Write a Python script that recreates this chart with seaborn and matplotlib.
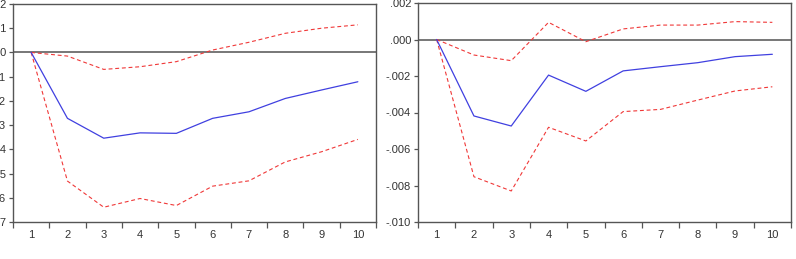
import numpy as np
import pandas as pd
import seaborn as sns
import matplotlib.pyplot as plt
from matplotlib.ticker import FixedLocator

# horizon 1..10
periods = list(range(1, 11))

# left panel (response, lower and upper bands)
left_resp = [0.0, -0.0272, -0.0354, -0.0332, -0.0334, -0.0272, -0.0245, -0.0190, -0.0155, -0.0121]
left_upper = [0.0, -0.0015, -0.0070, -0.0059, -0.0038, 0.0010, 0.0042, 0.0079, 0.0100, 0.0114]
left_lower = [0.0, -0.0531, -0.0639, -0.0603, -0.0632, -0.0552, -0.0530, -0.0452, -0.0410, -0.0359]
left_ticks = [0.02, 0.01, 0.0, -0.01, -0.02, -0.03, -0.04, -0.05, -0.06, -0.07]
left_labels = [".02", ".01", ".00", "-.01", "-.02", "-.03", "-.04", "-.05", "-.06", "-.07"]

# right panel
right_resp = [0.0, -0.00419, -0.00474, -0.00195, -0.00284, -0.00172, -0.00149, -0.00127, -0.00094, -0.00081]
right_upper = [0.0, -0.00085, -0.00116, 0.00094, -0.00012, 0.00058, 0.00079, 0.00079, 0.00098, 0.00094]
right_lower = [0.0, -0.00752, -0.00830, -0.00481, -0.00556, -0.00395, -0.00383, -0.00332, -0.00282, -0.00259]
right_ticks = [0.002, 0.0, -0.002, -0.004, -0.006, -0.008, -0.010]
right_labels = [".002", ".000", "-.002", "-.004", "-.006", "-.008", "-.010"]

sns.set_style("white")
plt.rcParams['font.family'] = ['Liberation Sans', 'DejaVu Sans']

fig = plt.figure(figsize=(7.96, 2.59), dpi=100)
ax1 = fig.add_axes([13 / 796, 1 - 222 / 259, 363 / 796, 218 / 259])
ax2 = fig.add_axes([418 / 796, 1 - 222 / 259, 373 / 796, 219 / 259])

frame_col = "#555555"


def draw(ax, resp, upper, lower, ticks, labels, ylim):
    df = pd.DataFrame({"period": periods, "resp": resp, "upper": upper, "lower": lower})
    sns.lineplot(data=df, x="period", y="upper", ax=ax, color="#f03838",
                 lw=0.8, linestyle=(0, (3.5, 2.5)))
    sns.lineplot(data=df, x="period", y="lower", ax=ax, color="#f03838",
                 lw=0.8, linestyle=(0, (3.5, 2.5)))
    sns.lineplot(data=df, x="period", y="resp", ax=ax, color="#4040e0", lw=0.9)
    ax.axhline(0, color="#606060", lw=1.2, zorder=0)
    ax.set_xlim(0.5, 10.5)
    ax.set_ylim(*ylim)
    ax.set_xticks(periods)
    ax.xaxis.set_minor_locator(FixedLocator(np.arange(0.5, 11, 1)))
    ax.set_yticks(ticks)
    ax.set_yticklabels(labels)
    ax.tick_params(axis="x", which="major", length=0, pad=6, labelsize=8, labelcolor="#333333")
    ax.tick_params(axis="x", which="minor", length=4, width=0.9, color=frame_col, direction="out", bottom=True)
    ax.tick_params(axis="y", length=3, width=0.9, color=frame_col, direction="out", left=True,
                   pad=2, labelsize=8, labelcolor="#333333")
    ax.set_xlabel("")
    ax.set_ylabel("")
    for s in ax.spines.values():
        s.set_color(frame_col)
        s.set_linewidth(1.0)


draw(ax1, left_resp, left_upper, left_lower, left_ticks, left_labels, (-0.07, 0.02))
draw(ax2, right_resp, right_upper, right_lower, right_ticks, right_labels, (-0.010, 0.002))

fig.savefig("out.png", dpi=100)
